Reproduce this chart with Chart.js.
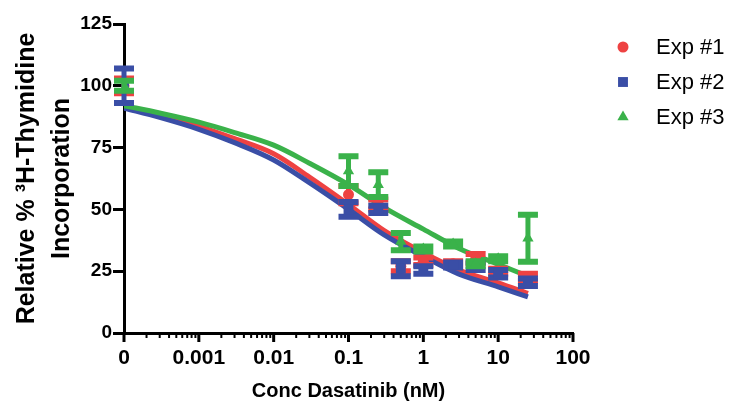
<!DOCTYPE html>
<html>
<head>
<meta charset="utf-8">
<script src="https://cdn.jsdelivr.net/npm/chart.js@4"></script>
<style>
  body { margin: 0; background: #fff; }
</style>
</head>
<body>
<canvas id="doseChart" width="733" height="403"></canvas>
<script>
// concentrations in nM; the "0" dose is plotted at the 0.0001 position (the "0" tick)
const conc = [0.0001, 0.1, 0.25, 0.5, 1, 2.5, 5, 10, 25];

// mean and SD for each experiment
const exp1Mean = [100, 56, 52, 27, 29, 28, 30, 25, 22.5];
const exp1Sd   = [3, 3.5, 2, 2, 1.5, 1, 2, 1, 1.5];
const exp2Mean = [100, 50, 50, 26, 25.5, 27.5, 27, 24, 20.5];
const exp2Sd   = [7, 3, 1.5, 3, 1.5, 1, 1.5, 1.5, 1.5];
const exp3Mean = [100, 65.5, 60, 37, 34, 36, 28, 30, 38.3];
const exp3Sd   = [2, 6, 5, 3.5, 1, 1, 1, 1, 9.5];

// fitted curves
const curveX  = [0.0001, 0.0003, 0.001, 0.003, 0.01, 0.03, 0.1, 0.3, 1, 3, 10, 25];
const fit1    = [91.5, 88, 83.6, 78.6, 72.5, 63.1, 52, 41.4, 32.5, 25.5, 20.3, 16];
const fit2    = [91, 87.2, 82.4, 77, 70, 60.8, 50, 39.7, 31, 23.8, 18.7, 14.6];
const fit3    = [92, 89, 85.3, 81.1, 76, 68.7, 60, 50.7, 42, 34.2, 27.8, 23];

// x axis decades and their labels
const decades = [0.0001, 0.001, 0.01, 0.1, 1, 10, 100];
const decadeLabels = ['0', '0.001', '0.01', '0.1', '1', '10', '100'];
const yTicks = [0, 25, 50, 75, 100, 125];

const seriesNames = ['Exp #1', 'Exp #2', 'Exp #3'];
const red = 'rgb(238,66,66)';
const blue = 'rgb(58,78,166)';
const green = 'rgb(58,178,74)';

const FONT = '"Liberation Sans", Arial, Helvetica, sans-serif';

function pts(xs, ys) {
    return xs.map((x, i) => ({ x: x, y: ys[i] }));
}

// error bars drawn under each marker dataset
const errorBarPlugin = {
    id: 'errorBars',
    beforeDatasetDraw(chart, args) {
        const ds = chart.data.datasets[args.index];
        if (!ds.errorBars) return;
        const ctx = chart.ctx;
        const yScale = chart.scales.y;
        ctx.save();
        ctx.strokeStyle = ds.backgroundColor;
        ctx.lineCap = 'butt';
        args.meta.data.forEach((pt, i) => {
            const m = ds.data[i].y, sd = ds.errorBars[i];
            const top = yScale.getPixelForValue(m + sd);
            const bot = yScale.getPixelForValue(m - sd);
            ctx.lineWidth = 5;
            ctx.beginPath();
            ctx.moveTo(pt.x, top);
            ctx.lineTo(pt.x, bot);
            ctx.stroke();
            ctx.lineWidth = 6;
            ctx.beginPath();
            ctx.moveTo(pt.x - 10, top);
            ctx.lineTo(pt.x + 10, top);
            ctx.moveTo(pt.x - 10, bot);
            ctx.lineTo(pt.x + 10, bot);
            ctx.stroke();
        });
        ctx.restore();
    }
};

// log tick marks on the x axis: long at decades, short in between
const xTickPlugin = {
    id: 'xTicks',
    afterDraw(chart) {
        const xs = chart.scales.x;
        const ctx = chart.ctx;
        const y0 = xs.top;
        ctx.save();
        ctx.strokeStyle = '#000';
        xs.ticks.forEach(t => {
            const x = xs.getPixelForValue(t.value);
            const major = decades.includes(t.value);
            ctx.lineWidth = major ? 3 : 2;
            ctx.beginPath();
            ctx.moveTo(x, y0);
            ctx.lineTo(x, y0 + (major ? 9 : 5));
            ctx.stroke();
        });
        ctx.restore();
    }
};

// legend at the right
const legendPlugin = {
    id: 'sideLegend',
    afterDraw(chart) {
        const ctx = chart.ctx;
        const rows = [47, 82, 117];
        ctx.save();
        chart.data.datasets.filter(d => d.errorBars).forEach(d => {
            const idx = seriesNames.indexOf(d.label);
            const y = rows[idx];
            ctx.fillStyle = d.backgroundColor;
            ctx.strokeStyle = d.backgroundColor;
            Chart.helpers.drawPoint(ctx, { pointStyle: d.pointStyle, radius: d.pointRadius, rotation: 0, borderWidth: 0 }, 623, y);
            ctx.fillStyle = '#000';
            ctx.font = '22px ' + FONT;
            ctx.textBaseline = 'middle';
            ctx.textAlign = 'left';
            ctx.fillText(d.label, 656, y + 1);
        });
        ctx.restore();
    }
};

new Chart(document.getElementById('doseChart'), {
    type: 'scatter',
    data: {
        datasets: [
            {
                label: seriesNames[2], data: pts(conc, exp3Mean), errorBars: exp3Sd,
                pointStyle: 'triangle', pointRadius: 6.5, pointHoverRadius: 6.5,
                backgroundColor: green, borderColor: green, borderWidth: 0, order: 0
            },
            {
                label: seriesNames[1], data: pts(conc, exp2Mean), errorBars: exp2Sd,
                pointStyle: 'rect', pointRadius: 7, pointHoverRadius: 7,
                backgroundColor: blue, borderColor: blue, borderWidth: 0, order: 1
            },
            {
                label: seriesNames[0], data: pts(conc, exp1Mean), errorBars: exp1Sd,
                pointStyle: 'circle', pointRadius: 5.5, pointHoverRadius: 5.5,
                backgroundColor: red, borderColor: red, borderWidth: 0, order: 2
            },
            {
                label: 'fit3', data: pts(curveX, fit3), showLine: true, pointRadius: 0,
                borderColor: green, borderWidth: 5, cubicInterpolationMode: 'monotone', order: 3
            },
            {
                label: 'fit2', data: pts(curveX, fit2), showLine: true, pointRadius: 0,
                borderColor: blue, borderWidth: 5, cubicInterpolationMode: 'monotone', order: 4
            },
            {
                label: 'fit1', data: pts(curveX, fit1), showLine: true, pointRadius: 0,
                borderColor: red, borderWidth: 5, cubicInterpolationMode: 'monotone', order: 5
            }
        ]
    },
    options: {
        responsive: false,
        animation: false,
        layout: { padding: { left: 8, right: 160, top: 24, bottom: 0 } },
        plugins: {
            legend: { display: false },
            tooltip: { enabled: false }
        },
        scales: {
            x: {
                type: 'logarithmic',
                min: decades[0],
                max: decades[decades.length - 1],
                afterBuildTicks: scale => {
                    const t = [];
                    for (let d = 0; d < decades.length - 1; d++) {
                        for (let m = 1; m <= 9; m++) t.push({ value: +(decades[d] * m).toPrecision(3) });
                    }
                    t.push({ value: decades[decades.length - 1] });
                    scale.ticks = t;
                },
                afterFit: scale => { scale.height = 70; },
                grid: { display: false, drawTicks: false },
                border: { display: true, color: '#000', width: 3 },
                ticks: {
                    autoSkip: false,
                    maxRotation: 0,
                    padding: 13,
                    color: '#000',
                    font: { family: FONT, size: 21, weight: 'bold' },
                    callback: v => {
                        const i = decades.indexOf(v);
                        return i >= 0 ? decadeLabels[i] : '';
                    }
                },
                title: {
                    display: true,
                    text: 'Conc Dasatinib (nM)',
                    color: '#000',
                    padding: { top: 0, bottom: 0 },
                    font: { family: FONT, size: 20, weight: 'bold' }
                }
            },
            y: {
                min: yTicks[0],
                max: yTicks[yTicks.length - 1],
                afterBuildTicks: scale => { scale.ticks = yTicks.map(v => ({ value: v })); },
                afterFit: scale => { scale.width = 116; },
                grid: {
                    display: true, drawOnChartArea: false,
                    tickLength: 11, tickWidth: 3, tickColor: '#000'
                },
                border: { display: true, color: '#000', width: 3 },
                ticks: {
                    padding: 1,
                    color: '#000',
                    font: { family: FONT, size: 19, weight: 'bold' }
                },
                title: {
                    display: true,
                    text: ['Relative % \u00B3H-Thymidine', 'Incorporation'],
                    color: '#000',
                    padding: { top: 2, bottom: 0 },
                    font: { family: FONT, size: 25, weight: 'bold', lineHeight: 1.4 }
                }
            }
        }
    },
    plugins: [errorBarPlugin, xTickPlugin, legendPlugin]
});
</script>
</body>
</html>
